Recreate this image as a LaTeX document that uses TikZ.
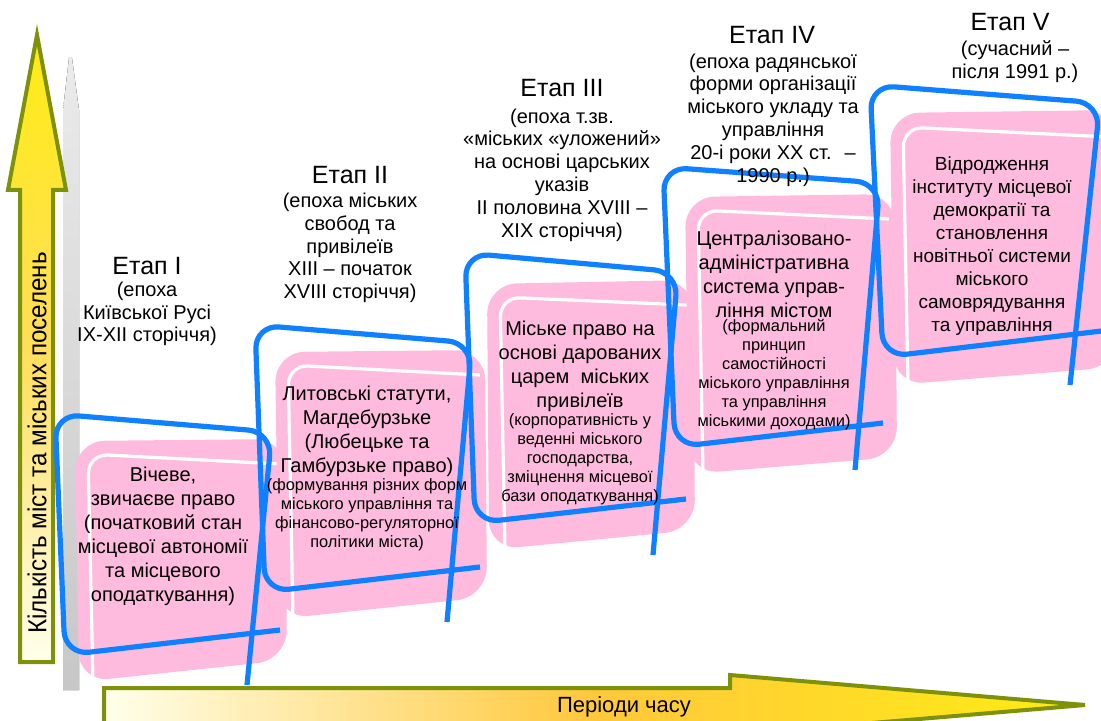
\documentclass[tikz,border=0pt]{standalone}
\usepackage{graphicx}
\usepackage{fontspec}
\setmainfont{Liberation Sans}
\usetikzlibrary{positioning}
\definecolor{stagepink}{RGB}{255,187,222}
\definecolor{frameblue}{RGB}{15,128,255}
\definecolor{arrowgreen}{RGB}{125,145,10}
\definecolor{arrowyellow}{RGB}{255,236,20}
\definecolor{arroworange}{RGB}{255,200,60}
\definecolor{arrowlight}{RGB}{255,222,90}
\definecolor{arrowpale}{RGB}{255,255,235}

\begin{document}
\begin{tikzpicture}[
        x=0.5pt, y=-0.5pt,
        stagepinkbox/.style={
            fill=stagepink,
            rounded corners=15pt,
          },
        stagegloss/.style={
            draw=white,
            line width=1.6pt,
            rounded corners=10pt,
          },
        stageframe/.style={
            draw=frameblue,
            line width=2.6pt,
            rounded corners=12pt,
          },
        stagetitle/.style={
            inner sep=0pt,
            font=\fontsize{12.5}{14}\selectfont,
          },
        stageepoch/.style={
            inner sep=0pt,
            align=center,
            font=\fontsize{10}{11.4}\selectfont,
          },
        stagebody/.style={
            inner sep=0pt,
            align=center,
            font=\fontsize{10}{12}\selectfont,
          },
        stagenote/.style={
            inner sep=0pt,
            align=center,
            font=\fontsize{8.2}{9.5}\selectfont,
          },
        timearrow/.style={
            draw=arrowgreen,
            line width=2pt,
            line join=miter,
          },
      ]
      \clip (0,0) rectangle (1101,721);
      \fill[white] (0,0) rectangle (1101,721);

      % axes
      \fill[top color=black!8, bottom color=black!22]
        (69,58) -- (72,58) -- (79,110) -- (79,690) -- (63,690) -- (63,110) -- cycle;
      \filldraw[timearrow, top color=arrowyellow, bottom color=arrowpale, middle color=arrowlight]
        (20,662) -- (20,190) -- (8,190) -- (37,35) -- (66,190) -- (53,190) -- (53,662) -- cycle;
      \filldraw[timearrow, left color=arrowpale, right color=arrowyellow, middle color=arroworange]
        (104,688) -- (730,688) -- (730,675) -- (1085,705) -- (730,735) -- (730,735) -- (104,735) -- cycle;
      \node [
        rotate=90,
        font=\fontsize{13}{15}\selectfont
      ] (ylabel) at (37,443) {\scalebox{0.93}[1]{Кількість міст та міських поселень}};
      \node [
        font=\fontsize{11}{13}\selectfont
      ] (xlabel) at (624,707) {Періоди часу};

      % stage I
      \begin{scope}[shift={(55,414)}]
        \fill[stagepinkbox] (20,27) -- (230,25) -- (232,246) -- (24,268) -- cycle;
        \draw[stagegloss] (38,268) -- (33,40) -- (225,50);
        \draw[stageframe] (192,271) -- (217,18) -- (0,0) -- (10,241) -- (225,216);
      \end{scope}
      \node [stagetitle] (t1) at (147,266) {Етап I};
      \node [stageepoch] (e1) at (147,314) {(епоха\\ Київської Русі\\ IX-XII сторіччя)};
      \node [stagebody] (b1) at (163,536) {Вічеве,\\ звичаєве право\\ (початковий стан\\ місцевої автономії\\ та місцевого\\ оподаткування)};

      % stage II
      \begin{scope}[shift={(255,325)}]
        \fill[stagepinkbox] (20,27) -- (230,25) -- (232,272) -- (24,294) -- cycle;
        \draw[stagegloss] (38,294) -- (33,40) -- (225,50);
        \draw[stageframe] (192,297) -- (217,18) -- (0,0) -- (10,267) -- (225,242);
      \end{scope}
      \node [stagetitle] (t2) at (350,175) {Етап II};
      \node [stageepoch] (e2) at (350,248) {(епоха міських\\ свобод та\\ привілеїв\\ XIII – початок\\ XVIII сторіччя)};
      \node [stagebody] (b2) at (367,431) {Литовські статути,\\ Магдебурзьке\\ (Любецьке та\\ Гамбурзьке право)};
      \node [stagenote] (n2) at (367,515) {(формування різних форм\\ міського управління та\\ фінансово-регуляторної\\ політики міста)};

      % stage III
      \begin{scope}[shift={(465,253)}]
        \fill[stagepinkbox] (22,31) -- (228,27) -- (230,277) -- (24,297) -- cycle;
        \draw[stagegloss] (40,297) -- (35,44) -- (222,52);
        \draw[stageframe] (188,302) -- (213,19) -- (0,0) -- (10,270) -- (221,246);
      \end{scope}
      \node [stagetitle] (t3) at (562,88) {Етап III};
      \node [stageepoch] (e3) at (562,175) {(епоха т.зв.\\ «міських «уложений»\\ на основі царських\\ указів\\ II половина XVIII –\\ XIX сторіччя)};
      \node [stagebody] (b3) at (580,366) {Міське право на\\ основі дарованих\\ царем~ міських\\ привілеїв};
      \node [stagenote] (n3) at (580,459) {(корпоративність у\\ веденні міського\\ господарства,\\ зміцнення місцевої\\ бази оподаткування)};

      % stage IV
      \begin{scope}[shift={(663,167)}]
        \fill[stagepinkbox] (22,30) -- (232,27) -- (234,290) -- (26,307) -- cycle;
        \draw[stagegloss] (40,307) -- (35,43) -- (226,52);
        \draw[stageframe] (192,303) -- (217,16) -- (0,0) -- (12,280) -- (220,256);
      \end{scope}
      \node [stagetitle] (t4) at (772,35) {Етап IV};
      \node [stageepoch] (e4) at (773,120) {(епоха радянської\\ форми організації\\ міського укладу та\\ управління\\ 20-і роки XX ст.~ –\\ 1990 р.)};
      \node [stagebody] (b4) at (774,274) {Централізовано-\\ адміністративна\\ система управ-\\ ління містом};
      \node [stagenote] (n4) at (774,375) {(формальний\\ принцип\\ самостійності\\ міського управління\\ та управління\\ міськими доходами)};

      % stage V
      \begin{scope}[shift={(870,85)}]
        \fill[stagepinkbox] (20,28) -- (245,25) -- (247,282) -- (24,300) -- cycle;
        \draw[stagegloss] (38,300) -- (33,42) -- (240,52);
        \draw[stageframe] (200,300) -- (230,18) -- (0,0) -- (13,272) -- (240,245);
      \end{scope}
      \node [stagetitle] (t5) at (1010,22) {Етап V};
      \node [stageepoch] (e5) at (1015,62) {(сучасний –\\ після 1991 р.)};
      \node [
        stagebody,
        font=\fontsize{9.5}{11.5}\selectfont
      ] (b5) at (992,246) {Відродження\\ інституту місцевої\\ демократії та\\ становлення\\ новітньої системи\\ міського\\ самоврядування\\ та управління};
    \end{tikzpicture}
\end{document}
